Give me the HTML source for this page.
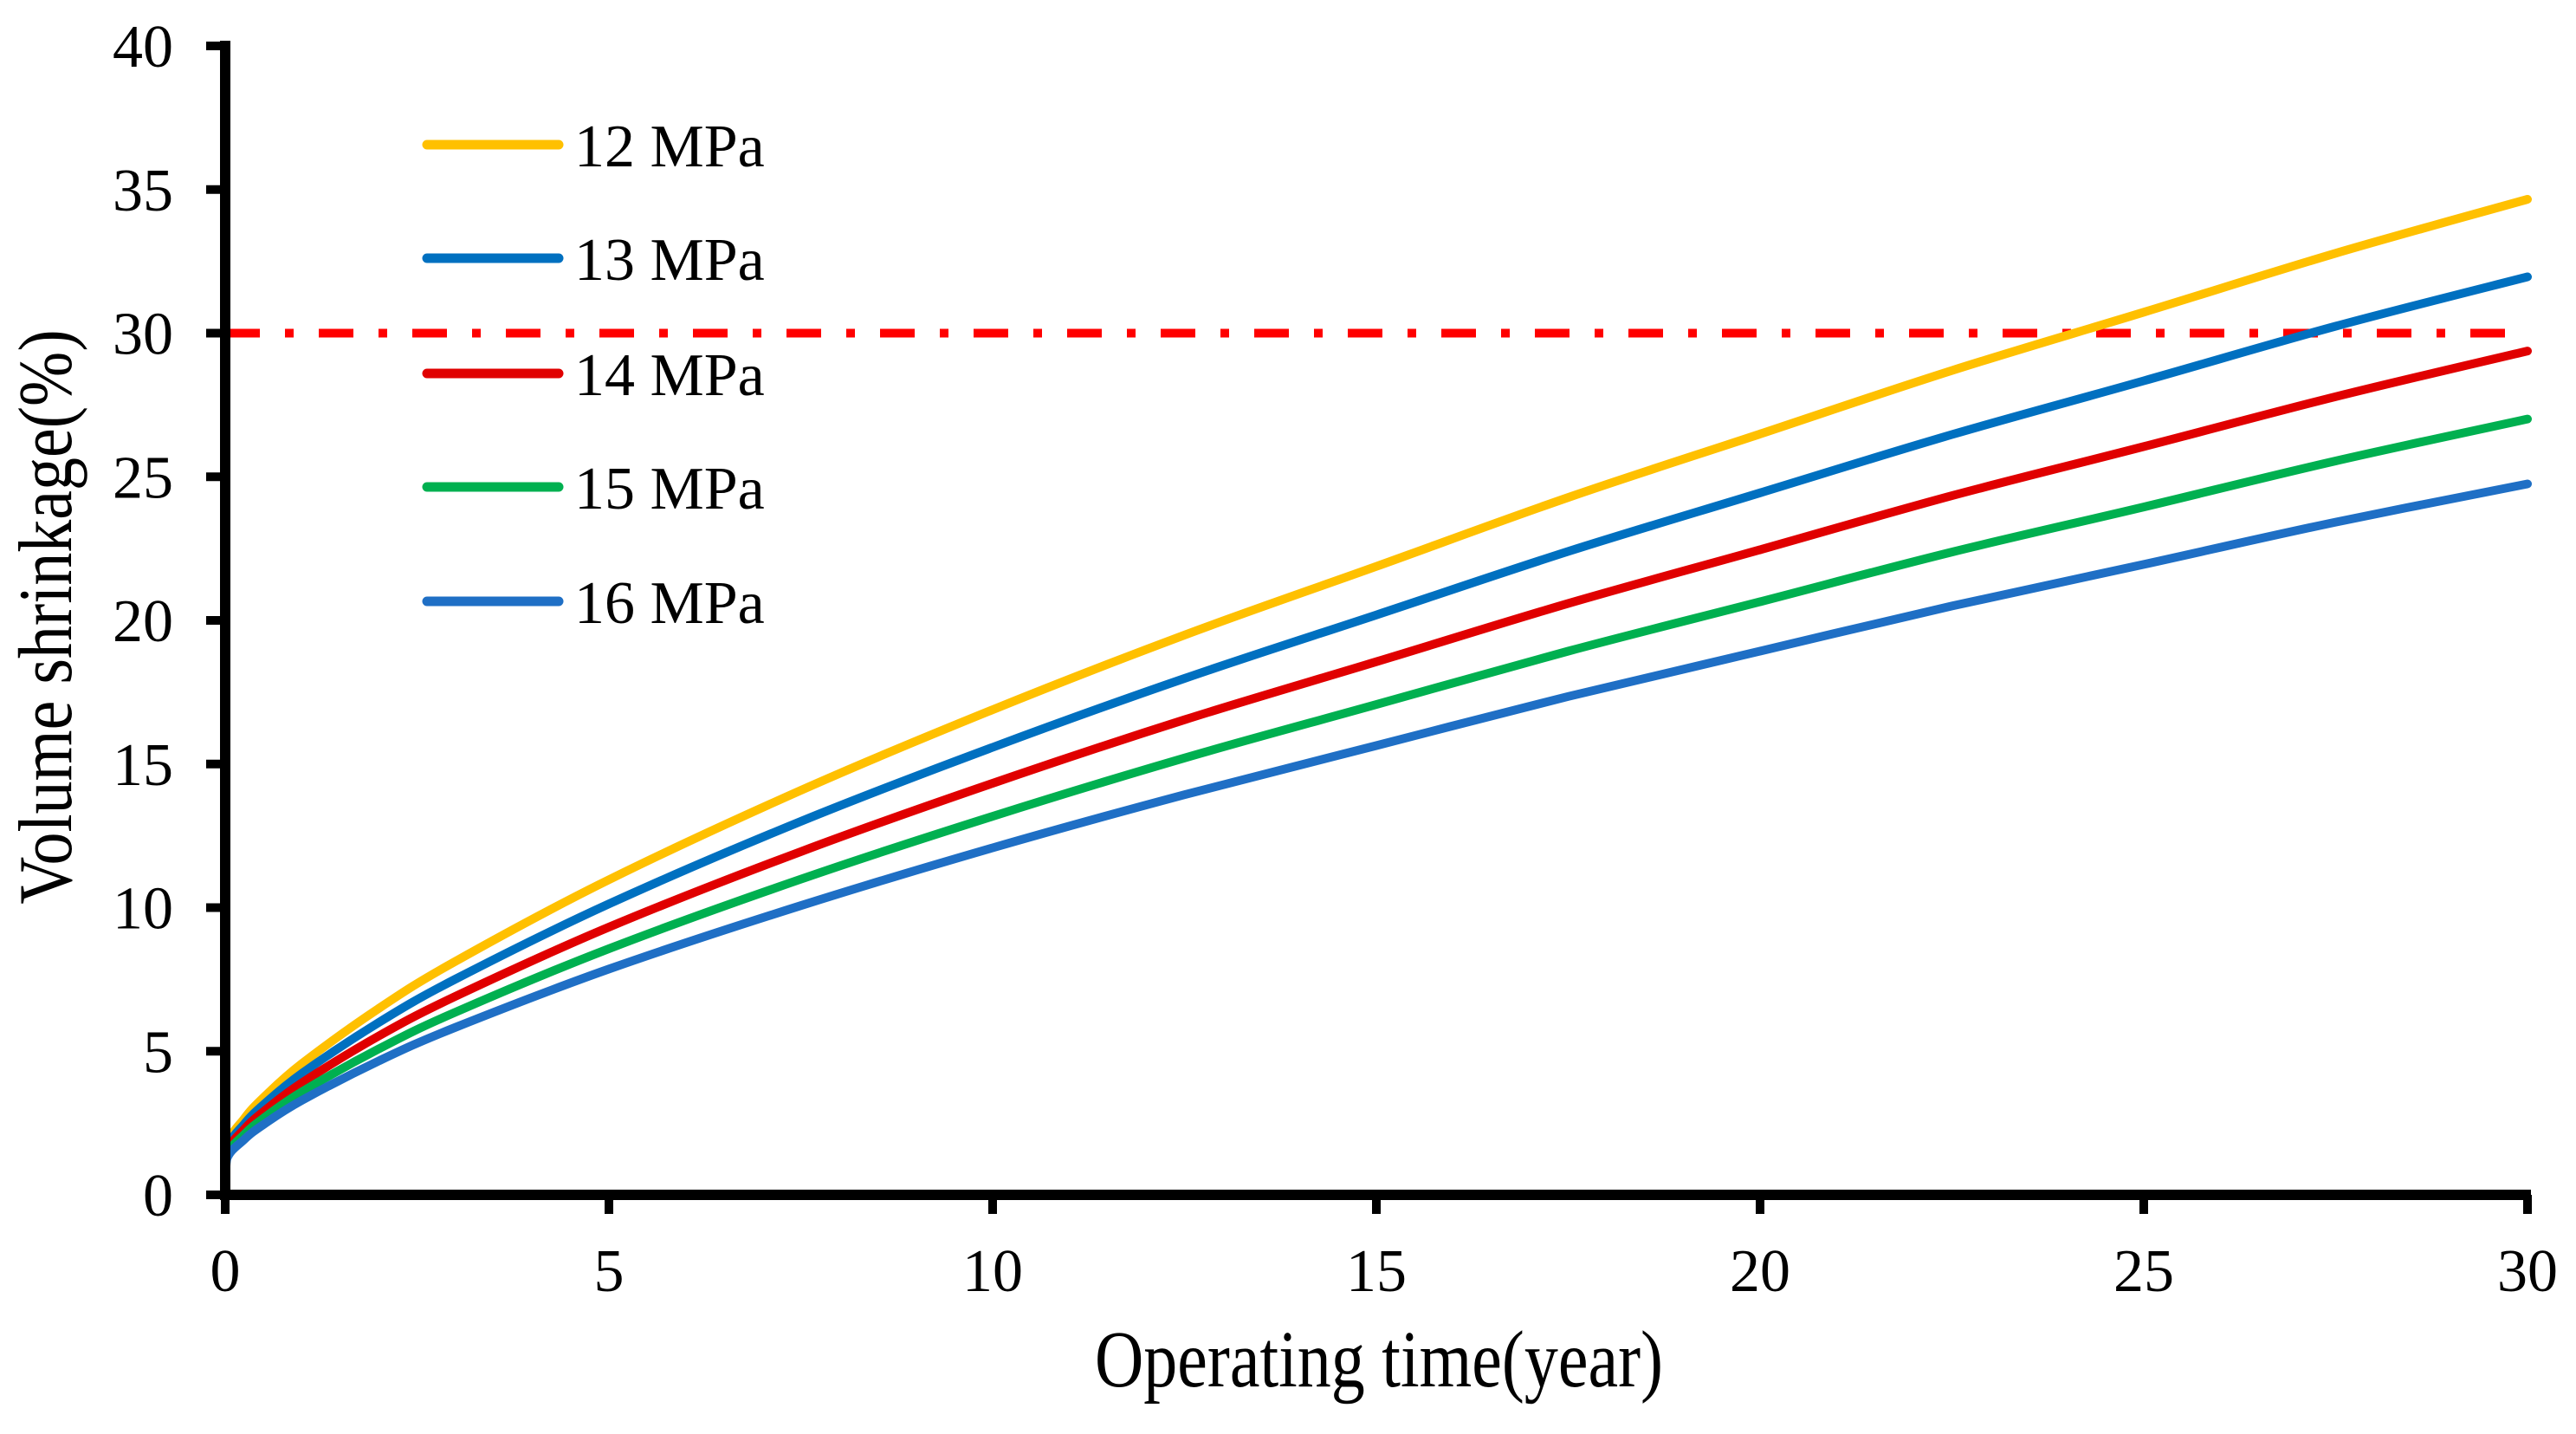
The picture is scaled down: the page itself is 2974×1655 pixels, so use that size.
<!DOCTYPE html>
<html><head><meta charset="utf-8"><style>
html,body{margin:0;padding:0;background:#fff;}
svg{display:block;font-family:"Liberation Serif",serif;}
</style></head><body>
<svg id="chart" width="2974" height="1655" viewBox="0 0 2974 1655" xmlns="http://www.w3.org/2000/svg">
<g id="plot"></g>
<g id="axes"></g>
<g id="legend"></g>
<text x="1592" y="1600" font-size="78" text-anchor="middle" transform="translate(0,-320) scale(1,1.2)">Operating time(year)</text>
<text font-size="76" text-anchor="middle" transform="translate(82,712) rotate(-90) scale(1.0,1.15)">Volume shrinkage(%)</text>
</svg>
<script>
const times = [0,0.02,0.25,0.5,1,2,3,5,7.5,10,12.5,15,17.5,20,22.5,25,27.5,30];
const seriesNames = ["12 MPa","13 MPa","14 MPa","15 MPa","16 MPa"];
const s12 = [0,1.7,2.66,3.39,4.57,6.49,8.13,10.97,14.08,16.89,19.49,21.88,24.28,26.49,28.70,30.73,32.78,34.66];
const s13 = [0,1.58,2.47,3.14,4.23,6.00,7.51,10.13,13.0,15.58,17.98,20.19,22.40,24.44,26.47,28.34,30.24,31.96];
const s14 = [0,1.47,2.29,2.90,3.90,5.53,6.91,9.32,11.95,14.33,16.54,18.56,20.59,22.46,24.34,26.05,27.79,29.38];
const s15 = [0,1.36,2.11,2.67,3.59,5.08,6.36,8.57,10.99,13.18,15.21,17.07,18.93,20.65,22.38,23.95,25.55,27.01];
const s16 = [0,1.24,1.93,2.45,3.29,4.66,5.83,7.86,10.07,12.08,13.93,15.64,17.35,18.93,20.5,21.95,23.42,24.75];
const xTicks = [0,5,10,15,20,25,30];
const yTicks = [0,5,10,15,20,25,30,35,40];
const threshold = 30;

const NS="http://www.w3.org/2000/svg";
const X0=260,X1=2918,Y0=1379,Y1=53;
const sx=v=>X0+(v-0)/(30-0)*(X1-X0);
const sy=v=>Y0-(v-0)/(40-0)*(Y0-Y1);
const colors=["#ffc000","#0070c0","#e00000","#00b050","#1f6fc5"];
const allSeries=[s12,s13,s14,s15,s16];
function mk(tag,attrs,parent){const e=document.createElementNS(NS,tag);for(const k in attrs)e.setAttribute(k,attrs[k]);parent.appendChild(e);return e;}
const plot=document.getElementById('plot'),axes=document.getElementById('axes'),legend=document.getElementById('legend');

function smoothPath(pts){
  // monotone-ish Catmull-Rom to cubic Bezier
  let d='M'+pts[0][0].toFixed(1)+','+pts[0][1].toFixed(1);
  for(let i=0;i<pts.length-1;i++){
    const p0=pts[Math.max(i-1,0)],p1=pts[i],p2=pts[i+1],p3=pts[Math.min(i+2,pts.length-1)];
    const t=1/6;
    let c1x=p1[0]+(p2[0]-p0[0])*t,c1y=p1[1]+(p2[1]-p0[1])*t;
    let c2x=p2[0]-(p3[0]-p1[0])*t,c2y=p2[1]-(p3[1]-p1[1])*t;
    c1x=Math.min(Math.max(c1x,p1[0]),p2[0]);c2x=Math.min(Math.max(c2x,p1[0]),p2[0]);
    d+=' C'+c1x.toFixed(1)+','+c1y.toFixed(1)+' '+c2x.toFixed(1)+','+c2y.toFixed(1)+' '+p2[0].toFixed(1)+','+p2[1].toFixed(1);
  }
  return d;
}

// threshold line
const th=mk('line',{x1:sx(0),x2:sx(30),y1:sy(threshold),y2:sy(threshold),stroke:'#ff0000','stroke-width':10,'stroke-dasharray':'40 29 10 29'},plot);



allSeries.forEach((s,i)=>{
  const pts=s.map((v,j)=>[sx(times[j]),sy(v)]);
  const p=mk('path',{d:smoothPath(pts),fill:'none',stroke:colors[i],'stroke-width':10,'stroke-linejoin':'round','stroke-linecap':'round'},plot);
  
  
});

// axes
const ya=mk('line',{x1:X0,x2:X0,y1:Y1-6,y2:Y0+6,stroke:'#000','stroke-width':12},axes);


const xa=mk('line',{x1:X0-6,x2:X1+4,y1:Y0,y2:Y0,stroke:'#000','stroke-width':12},axes);


yTicks.forEach(v=>{
  const t=mk('line',{x1:X0-22,x2:X0,y1:sy(v),y2:sy(v),stroke:'#000','stroke-width':10},axes);
  
  
  const l=mk('text',{x:200,y:sy(v)+24,'font-size':70,'text-anchor':'end'},axes);
  l.textContent=v;
  
  
});
xTicks.forEach(v=>{
  const t=mk('line',{x1:sx(v),x2:sx(v),y1:Y0,y2:Y0+22,stroke:'#000','stroke-width':10},axes);
  
  
  const l=mk('text',{x:sx(v),y:1490,'font-size':70,'text-anchor':'middle'},axes);
  l.textContent=v;
  
  
});

// legend
const ly=[167,298,431,562,694];
seriesNames.forEach((n,i)=>{
  const g=mk('g',{},legend);
  
  
  mk('line',{x1:493,x2:645,y1:ly[i],y2:ly[i],stroke:colors[i],'stroke-width':11,'stroke-linecap':'round'},g);
  const t=mk('text',{x:663,y:ly[i]+25,'font-size':70},g);
  t.textContent=n;
});
</script>
</body></html>
